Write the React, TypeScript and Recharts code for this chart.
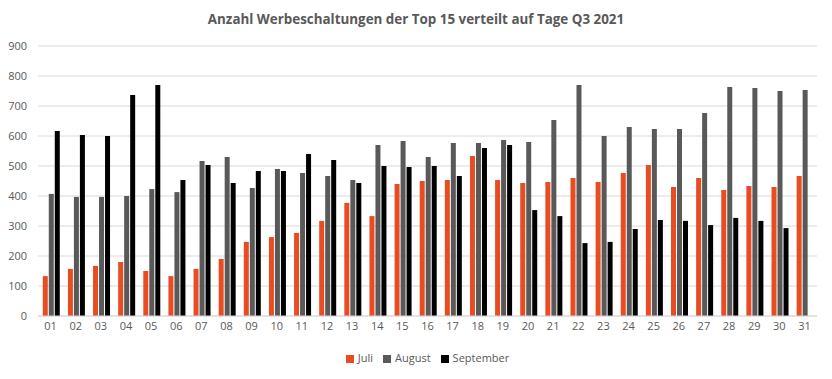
import React from "react";
import { BarChart, Bar, XAxis, YAxis, CartesianGrid, Legend } from "recharts";

const days = ["01","02","03","04","05","06","07","08","09","10","11","12","13","14","15","16","17","18","19","20","21","22","23","24","25","26","27","28","29","30","31"];
const juli = [133,157,167,180,150,133,157,190,247,263,277,317,377,333,440,450,453,533,453,443,447,460,447,477,503,430,460,420,433,430,467];
const august = [407,397,397,400,423,413,517,530,427,490,477,467,453,570,583,530,577,577,587,580,653,770,600,630,623,623,677,763,760,750,753];
const september: (number | null)[] = [617,603,600,737,770,453,503,443,483,483,540,520,443,500,497,500,467,560,570,353,333,243,247,290,320,317,303,327,317,293,null];
const yTicks = [0,100,200,300,400,500,600,700,800,900];
const seriesOrder = ["Juli", "August", "September"];
const title = "Anzahl Werbeschaltungen der Top 15 verteilt auf Tage Q3 2021";

const data = days.map((d, i) => ({ day: d, Juli: juli[i], August: august[i], September: september[i] }));

const FONT = "'Open Sans', 'Noto Sans', sans-serif";

export default function App() {
  return (
    <div style={{ position: "absolute", left: 0, top: 0, width: 832, height: 379, background: "#fff", fontFamily: FONT }}>
      <div style={{ position: "absolute", left: 0, top: 10, width: 832, textAlign: "center", fontSize: 13.4, fontWeight: 700, color: "#595959" }}>
        {title}
      </div>
      <BarChart width={832} height={379} data={data} margin={{ top: 46, right: 15, left: 0, bottom: 14 }} barCategoryGap="19%" barGap={1}>
        <CartesianGrid vertical={false} stroke="#D9D9D9" />
        <XAxis dataKey="day" axisLine={{ stroke: "#D9D9D9" }} tickLine={false} tick={{ fill: "#595959", fontSize: 11, fontFamily: FONT }} tickMargin={0} interval={0} height={34} />
        <YAxis domain={[0, 900]} ticks={yTicks} axisLine={false} tickLine={false} tickSize={0} tickMargin={11} width={38} tick={{ fill: "#595959", fontSize: 11, fontFamily: FONT }} />
        <Legend verticalAlign="bottom" align="center" iconType="square" iconSize={8}
          itemSorter={(item: any) => seriesOrder.indexOf(item.value)}
          wrapperStyle={{ fontSize: 11, fontFamily: FONT, paddingLeft: 24 }}
          formatter={(v: string) => <span style={{ color: "#595959" }}>{v}</span>} />
        <Bar dataKey="Juli" fill="#E84C22" isAnimationActive={false} />
        <Bar dataKey="August" fill="#595959" isAnimationActive={false} />
        <Bar dataKey="September" fill="#000000" isAnimationActive={false} />
      </BarChart>
    </div>
  );
}
